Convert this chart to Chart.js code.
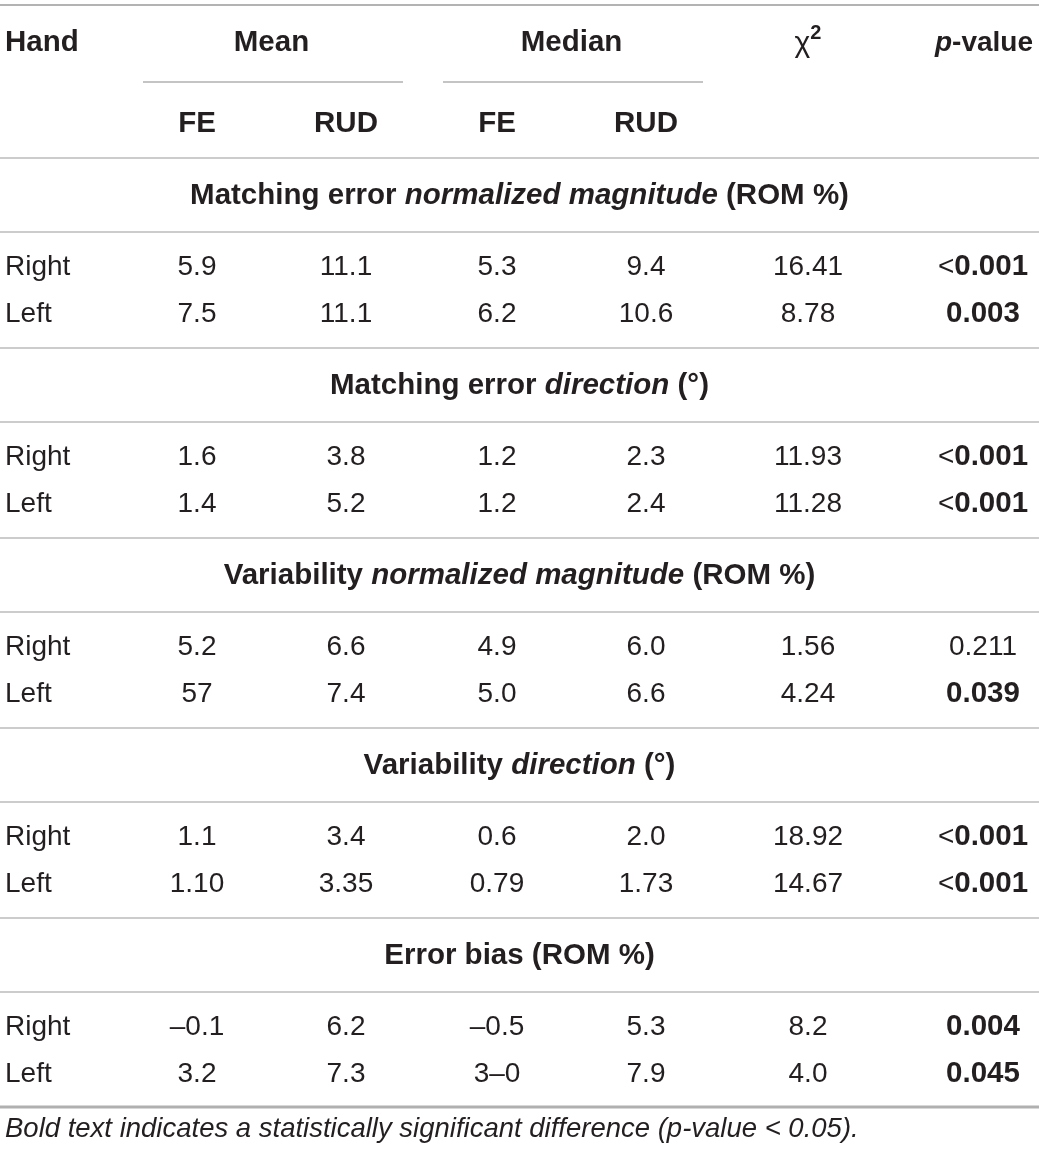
<!DOCTYPE html>
<html>
<head>
<meta charset="utf-8">
<script src="https://cdn.jsdelivr.net/npm/chart.js@4/dist/chart.umd.min.js"></script>
<style>
  html, body { margin: 0; padding: 0; background: #fff; }
  #tableChart { display: block; }
</style>
</head>
<body>
<canvas id="tableChart" width="1039" height="1155"></canvas>
<script>
// table content
const hands = ['Right', 'Left'];
const sectionTitles = [
  [['Matching error ', 'b'], ['normalized magnitude', 'bi'], [' (ROM %)', 'b']],
  [['Matching error ', 'b'], ['direction', 'bi'], [' (°)', 'b']],
  [['Variability ', 'b'], ['normalized magnitude', 'bi'], [' (ROM %)', 'b']],
  [['Variability ', 'b'], ['direction', 'bi'], [' (°)', 'b']],
  [['Error bias (ROM %)', 'b']]
];
const meanFE    = ['5.9', '7.5', '1.6', '1.4', '5.2', '57', '1.1', '1.10', '–0.1', '3.2'];
const meanRUD   = ['11.1', '11.1', '3.8', '5.2', '6.6', '7.4', '3.4', '3.35', '6.2', '7.3'];
const medianFE  = ['5.3', '6.2', '1.2', '1.2', '4.9', '5.0', '0.6', '0.79', '–0.5', '3–0'];
const medianRUD = ['9.4', '10.6', '2.3', '2.4', '6.0', '6.6', '2.0', '1.73', '5.3', '7.9'];
const chiSq     = ['16.41', '8.78', '11.93', '11.28', '1.56', '4.24', '18.92', '14.67', '8.2', '4.0'];
const pValues   = ['<0.001', '0.003', '<0.001', '<0.001', '0.211', '0.039', '<0.001', '<0.001', '0.004', '0.045'];
const footnote = 'Bold text indicates a statistically significant difference (p-value < 0.05).';

// layout (canvas units)
const W = 1039, H = 1155;
const colX = [5, 197, 346, 497, 646, 808, 983];
const headerY = 43, subHeaderY = 124;
const firstRule = 158, sectionStep = 190;
const FONT = '"Liberation Sans", Arial, Helvetica, sans-serif';
const INK = '#231f20';
const BODY = 28, BOLD = 29.5;

const bodyCols = [meanFE, meanRUD, medianFE, medianRUD, chiSq];

// text anchors
const cells = [];
function seg(t, s) { return [t, s || 'n']; }
cells.push({ x: colX[0], y: headerY, segs: [seg('Hand', 'b')], align: 'left' });
cells.push({ x: (colX[1] + colX[2]) / 2, y: headerY, segs: [seg('Mean', 'b')], align: 'center' });
cells.push({ x: (colX[3] + colX[4]) / 2, y: headerY, segs: [seg('Median', 'b')], align: 'center' });
cells.push({ x: colX[5], y: headerY + 1, segs: [seg('χ', 'n'), seg('2', 'sup')], align: 'center', size: 30 });
cells.push({ x: 1033, y: headerY, segs: [seg('p', 'bi'), seg('-value', 'b')], align: 'right', size: 28 });
['FE', 'RUD', 'FE', 'RUD'].forEach((t, i) => {
  cells.push({ x: colX[i + 1], y: subHeaderY, segs: [seg(t, 'b')], align: 'center' });
});
sectionTitles.forEach((title, s) => {
  const top = firstRule + s * sectionStep;
  cells.push({ x: W / 2, y: top + 38, segs: title, align: 'center' });
  hands.forEach((h, r) => {
    const k = s * 2 + r;
    const y = top + 109 + r * 47;
    cells.push({ x: colX[0], y, segs: [seg(h)], align: 'left' });
    bodyCols.forEach((col, c) => {
      cells.push({ x: colX[c + 1], y, segs: [seg(col[k])], align: 'center' });
    });
    const p = pValues[k];
    const sig = parseFloat(p.replace('<', '')) < 0.05;
    const segs = p.startsWith('<') ? [seg('<'), seg(p.slice(1), sig ? 'b' : 'n')] : [seg(p, sig ? 'b' : 'n')];
    cells.push({ x: colX[6], y, segs, align: 'center' });
  });
});
cells.push({ x: colX[0], y: 1129, segs: [seg(footnote, 'i')], align: 'left', size: 27.5 });

// horizontal rules
const rules = [{ x0: 0, x1: W, y: 5, w: 1.5, c: '#9a9a9a' }];
rules.push({ x0: 143, x1: 403, y: 82, w: 1.2, c: '#8a8a8a' });
rules.push({ x0: 443, x1: 703, y: 82, w: 1.2, c: '#8a8a8a' });
for (let s = 0; s < sectionTitles.length; s++) {
  const top = firstRule + s * sectionStep;
  rules.push({ x0: 0, x1: W, y: top, w: 1.2, c: '#9a9a9a' });
  rules.push({ x0: 0, x1: W, y: top + 74, w: 1.2, c: '#9a9a9a' });
}
rules.push({ x0: 0, x1: W, y: 1107, w: 3, c: '#b0b0b0' });

const ruleSets = rules.map(r => ({
  data: [{ x: r.x0, y: r.y }, { x: r.x1, y: r.y }],
  showLine: true,
  borderColor: r.c,
  borderWidth: r.w,
  pointRadius: 0
}));

function fontFor(style, size) {
  const bold = style.includes('b') ? '700 ' : '400 ';
  const ital = style.includes('i') ? 'italic ' : '';
  return ital + bold + size + 'px ' + FONT;
}

const cellText = {
  id: 'cellText',
  afterDatasetsDraw(chart) {
    const ctx = chart.ctx;
    const meta = chart.getDatasetMeta(chart.data.datasets.length - 1);
    ctx.save();
    ctx.fillStyle = INK;
    ctx.textBaseline = 'middle';
    ctx.textAlign = 'left';
    meta.data.forEach((pt, i) => {
      const cell = cells[i];
      const parts = cell.segs.map(([t, s]) => {
        let sz = cell.size || (s.includes('b') ? BOLD : BODY);
        if (s === 'sup') sz = 20;
        ctx.font = fontFor(s === 'sup' ? 'b' : s, sz);
        return { t, s, sz, w: ctx.measureText(t).width };
      });
      const total = parts.reduce((a, p) => a + p.w, 0);
      let x = pt.x;
      if (cell.align === 'center') x -= total / 2;
      else if (cell.align === 'right') x -= total;
      parts.forEach(p => {
        ctx.font = fontFor(p.s === 'sup' ? 'b' : p.s, p.sz);
        ctx.fillText(p.t, x, p.s === 'sup' ? pt.y - 11 : pt.y);
        x += p.w;
      });
    });
    ctx.restore();
  }
};

new Chart(document.getElementById('tableChart'), {
  type: 'scatter',
  data: {
    datasets: [...ruleSets, {
      data: cells.map(c => ({ x: c.x, y: c.y })),
      pointRadius: 0,
      showLine: false
    }]
  },
  options: {
    responsive: false,
    animation: false,
    layout: { padding: 0 },
    plugins: { legend: { display: false }, tooltip: { enabled: false } },
    scales: {
      x: { type: 'linear', min: 0, max: W, display: false },
      y: { type: 'linear', min: 0, max: H, reverse: true, display: false }
    }
  },
  plugins: [cellText]
});
</script>
</body>
</html>
